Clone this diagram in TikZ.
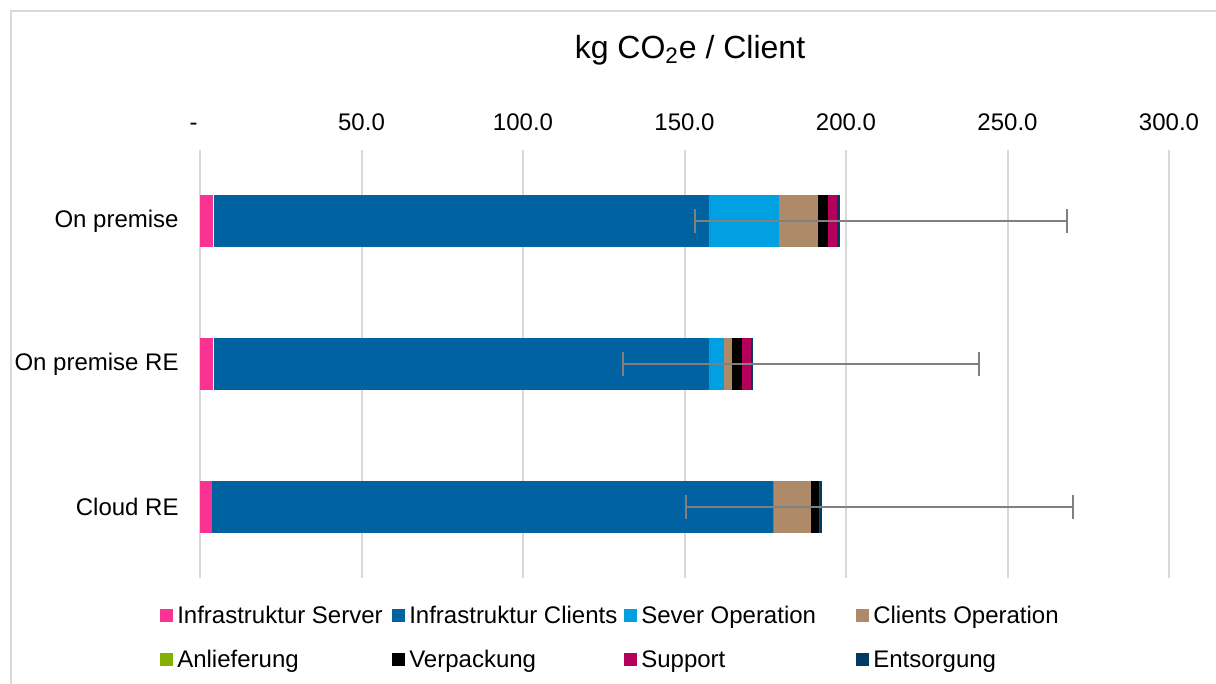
\documentclass[tikz,border=0pt]{standalone}
\usepackage{fontspec}
\setmainfont{Liberation Sans}
\usepackage{xcolor}
\usetikzlibrary{positioning}
\definecolor{frame}{rgb}{0.85,0.85,0.85}
\definecolor{grid}{rgb}{0.85,0.85,0.85}
\definecolor{errgray}{rgb}{0.5,0.5,0.5}
\definecolor{infserver}{RGB}{250,50,145}
\definecolor{infclients}{RGB}{0,98,160}
\definecolor{srvop}{RGB}{0,160,227}
\definecolor{cliop}{RGB}{174,138,104}
\definecolor{delivery}{RGB}{132,176,0}
\definecolor{packing}{RGB}{0,0,0}
\definecolor{support}{RGB}{181,0,92}
\definecolor{disposal}{RGB}{0,59,100}
\tikzset{
	legbox/.style={minimum size=6.5pt, inner sep=0pt},
	legtext/.style={anchor=base west, inner sep=0pt, font=\fontsize{12}{14}\selectfont},
	axtext/.style={font=\fontsize{12}{14}\selectfont},
	errbar/.style={errgray, line width=1pt}
}

\begin{document}
\begin{tikzpicture}[x=0.5pt, y=-0.5pt]
	\useasboundingbox (0,0) rectangle (1216,684);

	% Chart area outline
		\draw[frame, line width=1pt] (11,684) -- (11,11.5) -- (1216,11.5);

	% Title
		\node[font=\fontsize{16}{18}\selectfont] (title) at (690,50) {kg CO\textsubscript{2}e / Client};

	% Value axis, data units in a shifted scope
	\begin{scope}[shift={(200,0)}, x=1.615pt]
		% Grid
			\foreach \v in {0,50,...,300} {
				\draw[grid, line width=1pt] (\v,150) -- (\v,578);
			}
			\node[axtext] (tick0) at (-2,127) {-};
			\foreach \v in {50,100,...,300} {
				\node[axtext] (tick\v) at (\v,122) {\v.0};
			}

		% Bars
			% Draws one stacked part of a bar: centre y, from, to, colour
			\newcommand\barpart[4] {
				\fill[#4] (#2,#1-26) rectangle (#3,#1+26);
				\draw[white, line width=0.3pt] (#3,#1-26) -- (#3,#1+26);
			}
			% On premise
			\barpart{221}{0}{4.2}{infserver}
			\barpart{221}{4.2}{157.6}{infclients}
			\barpart{221}{157.6}{179.3}{srvop}
			\barpart{221}{179.3}{191.3}{cliop}
			\barpart{221}{191.3}{194.4}{packing}
			\barpart{221}{194.4}{197.2}{support}
			\barpart{221}{197.2}{198.1}{disposal}
			% On premise RE
			\barpart{364}{0}{4.2}{infserver}
			\barpart{364}{4.2}{157.6}{infclients}
			\barpart{364}{157.6}{162.2}{srvop}
			\barpart{364}{162.2}{164.7}{cliop}
			\barpart{364}{164.7}{167.8}{packing}
			\barpart{364}{167.8}{170.6}{support}
			\barpart{364}{170.6}{171.2}{disposal}
			% Cloud RE
			\barpart{507}{0}{3.7}{infserver}
			\barpart{507}{3.7}{177.4}{infclients}
			\barpart{507}{177.4}{177.8}{srvop}
			\barpart{507}{177.8}{189.2}{cliop}
			\barpart{507}{189.2}{191.6}{packing}
			\barpart{507}{191.6}{192.0}{support}
			\barpart{507}{192.0}{192.6}{disposal}

		% Error bars
			\coordinate (lo1) at (153.2,221);
			\coordinate (hi1) at (268.4,221);
			\coordinate (lo2) at (131.0,364);
			\coordinate (hi2) at (241.2,364);
			\coordinate (lo3) at (150.5,507);
			\coordinate (hi3) at (270.3,507);
			\foreach \r in {1,2,3} {
				\draw[errbar] (lo\r) -- (hi\r);
				\draw[errbar] (lo\r) ++(0,-12) -- ++(0,24);
				\draw[errbar] (hi\r) ++(0,-12) -- ++(0,24);
			}
	\end{scope}

	% Categories
		\node[axtext, anchor=east, inner sep=0pt] (catA) at (179,221) {On premise};
		\node[axtext, anchor=east, inner sep=0pt] (catB) at (179,364) {On premise RE};
		\node[axtext, anchor=east, inner sep=0pt] (catC) at (179,507) {Cloud RE};

	% Legend
		\node[legbox, fill=infserver] (kInfS) at (166,615) {};
		\node[legtext] at ([xshift=2pt,yshift=-1pt]kInfS.south east) (tInfS) {Infrastruktur Server};
		\node[legbox, fill=infclients] (kInfC) at (398,615) {};
		\node[legtext] at ([xshift=2pt,yshift=-1pt]kInfC.south east) (tInfC) {Infrastruktur Clients};
		\node[legbox, fill=srvop] (kSrv) at (630,615) {};
		\node[legtext] at ([xshift=2pt,yshift=-1pt]kSrv.south east) (tSrv) {Sever Operation};
		\node[legbox, fill=cliop] (kCli) at (862,615) {};
		\node[legtext] at ([xshift=2pt,yshift=-1pt]kCli.south east) (tCli) {Clients Operation};
		\node[legbox, fill=delivery] (kDel) at (166,659) {};
		\node[legtext] at ([xshift=2pt,yshift=-1pt]kDel.south east) (tDel) {Anlieferung};
		\node[legbox, fill=packing] (kPack) at (398,659) {};
		\node[legtext] at ([xshift=2pt,yshift=-1pt]kPack.south east) (tPack) {Verpackung};
		\node[legbox, fill=support] (kSup) at (630,659) {};
		\node[legtext] at ([xshift=2pt,yshift=-1pt]kSup.south east) (tSup) {Support};
		\node[legbox, fill=disposal] (kDis) at (862,659) {};
		\node[legtext] at ([xshift=2pt,yshift=-1pt]kDis.south east) (tDis) {Entsorgung};
\end{tikzpicture}
\end{document}
